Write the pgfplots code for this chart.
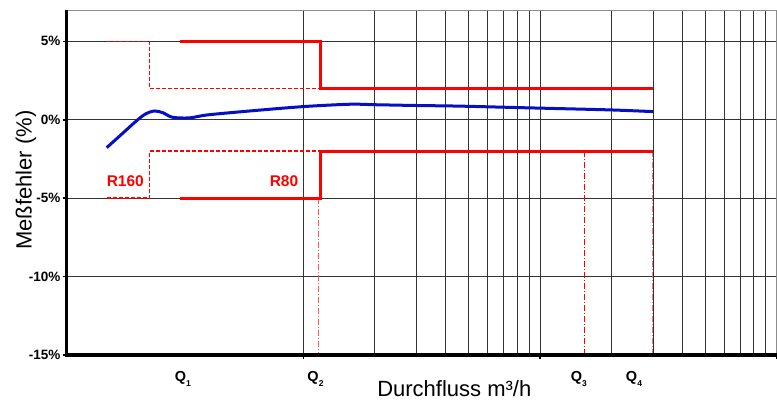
\documentclass[border=0pt]{standalone}
\usepackage{fontspec}
\setmainfont{Liberation Sans}
\usepackage{pgfplots}
\pgfplotsset{compat=1.18}

\definecolor{kurve}{RGB}{5,15,195}
\definecolor{grenz}{RGB}{255,0,0}

\begin{document}
\begin{tikzpicture}
\begin{axis}[
    name=ax,
    scale only axis,
    width=710.1pt, height=345pt,
    xmode=log,
    xmin=1, xmax=1000,
    ymin=-15, ymax=7,
    clip=false,
    axis line style={black!45, line width=0.8pt},
    tick pos=left,
    tick align=outside,
    xtick={10,100,1000},
    xticklabels={},
    minor x tick num=0,
    xmajorgrids=true, xminorgrids=true,
    ytick={-15,-10,-5,0,5},
    yticklabels={-15\%,-10\%,-5\%,0\%,5\%},
    ymajorgrids=true,
    major grid style={black!80, line width=0.8pt},
    minor grid style={black!80, line width=0.8pt},
    major tick length=4pt,
    minor tick length=0pt,
    every tick/.style={black, line width=1.5pt},
    yticklabel style={font=\fontsize{13.5}{15}\selectfont\bfseries, inner sep=2pt},
    xlabel={Durchfluss m³/h},
    xlabel style={font=\fontsize{22}{24}\selectfont, at={(axis description cs:0.546,0)}, anchor=base, yshift=-41.7pt},
    ylabel={Meßfehler (\%)},
    ylabel style={font=\fontsize{22}{24}\selectfont, at={(axis description cs:-0.0491,0.507)}, anchor=base},
]
% Grenzen R160 (gestrichelt)
\addplot[grenz, line width=1.5pt, dash pattern=on 4pt off 2pt] coordinates {(1.477,5) (2.24,5) (2.24,2) (11.8,2)};
\addplot[grenz, line width=1.5pt, dash pattern=on 4pt off 2pt] coordinates {(1.477,-5) (2.24,-5) (2.24,-2) (11.8,-2)};
% Q-Linien
\addplot[grenz!65, line width=1pt, dash pattern=on 6pt off 2pt on 1pt off 2pt] coordinates {(11.6,-5) (11.6,-15)};
\addplot[grenz, line width=1pt, dash pattern=on 6pt off 2pt on 1pt off 2pt] coordinates {(153.9,-2) (153.9,-15)};
\addplot[grenz!55, line width=1pt, dash pattern=on 6pt off 2pt on 1pt off 2pt] coordinates {(300,-2) (300,-15)};
% Grenzen R80 (durchgezogen)
\addplot[grenz, line width=3pt] coordinates {(3,5) (11.8,5) (11.8,2) (300,2)};
\addplot[grenz, line width=3pt] coordinates {(3,-5) (11.8,-5) (11.8,-2) (300,-2)};
% Messkurve
\addplot[kurve, line width=3pt, smooth, tension=0.5] coordinates {
    (1.477,-1.78) (1.7,-0.95) (1.976,-0.06) (2.16,0.38) (2.35,0.56) (2.55,0.45)
    (2.8,0.16) (3.3,0.12) (3.94,0.31) (5.93,0.56) (10,0.84) (15.7,0.99)
    (20,0.96) (30,0.91) (45.7,0.87) (89.5,0.76) (196.8,0.63) (300,0.52)
};
\node[font=\fontsize{15.5}{17}\selectfont\bfseries, text=grenz, fill=white, inner sep=1pt] at (axis cs:1.77,-3.9) {R160};
\node[font=\fontsize{15.5}{17}\selectfont\bfseries, text=grenz, fill=white, inner sep=1pt] at (axis cs:8.29,-3.9) {R80};
\node[font=\fontsize{14.5}{16}\selectfont\bfseries, anchor=base, yshift=-26.7pt] at (axis cs:3.1,-15) {Q\raisebox{-0.3em}{\fontsize{8.5}{9}\selectfont 1}};
\node[font=\fontsize{14.5}{16}\selectfont\bfseries, anchor=base, yshift=-26.7pt] at (axis cs:11.26,-15) {Q\raisebox{-0.3em}{\fontsize{8.5}{9}\selectfont 2}};
\node[font=\fontsize{14.5}{16}\selectfont\bfseries, anchor=base, yshift=-26.7pt] at (axis cs:146,-15) {Q\raisebox{-0.3em}{\fontsize{8.5}{9}\selectfont 3}};
\node[font=\fontsize{14.5}{16}\selectfont\bfseries, anchor=base, yshift=-26.7pt] at (axis cs:249.5,-15) {Q\raisebox{-0.3em}{\fontsize{8.5}{9}\selectfont 4}};
\draw[black, line width=3.5pt] (rel axis cs:0,1) -- (rel axis cs:0,0) -- (rel axis cs:1,0);
\end{axis}
\pgfresetboundingbox
\path ([shift={(-66.6pt,-46pt)}]ax.south west) rectangle ([shift={(0.3pt,10pt)}]ax.north east);
\end{tikzpicture}
\end{document}
